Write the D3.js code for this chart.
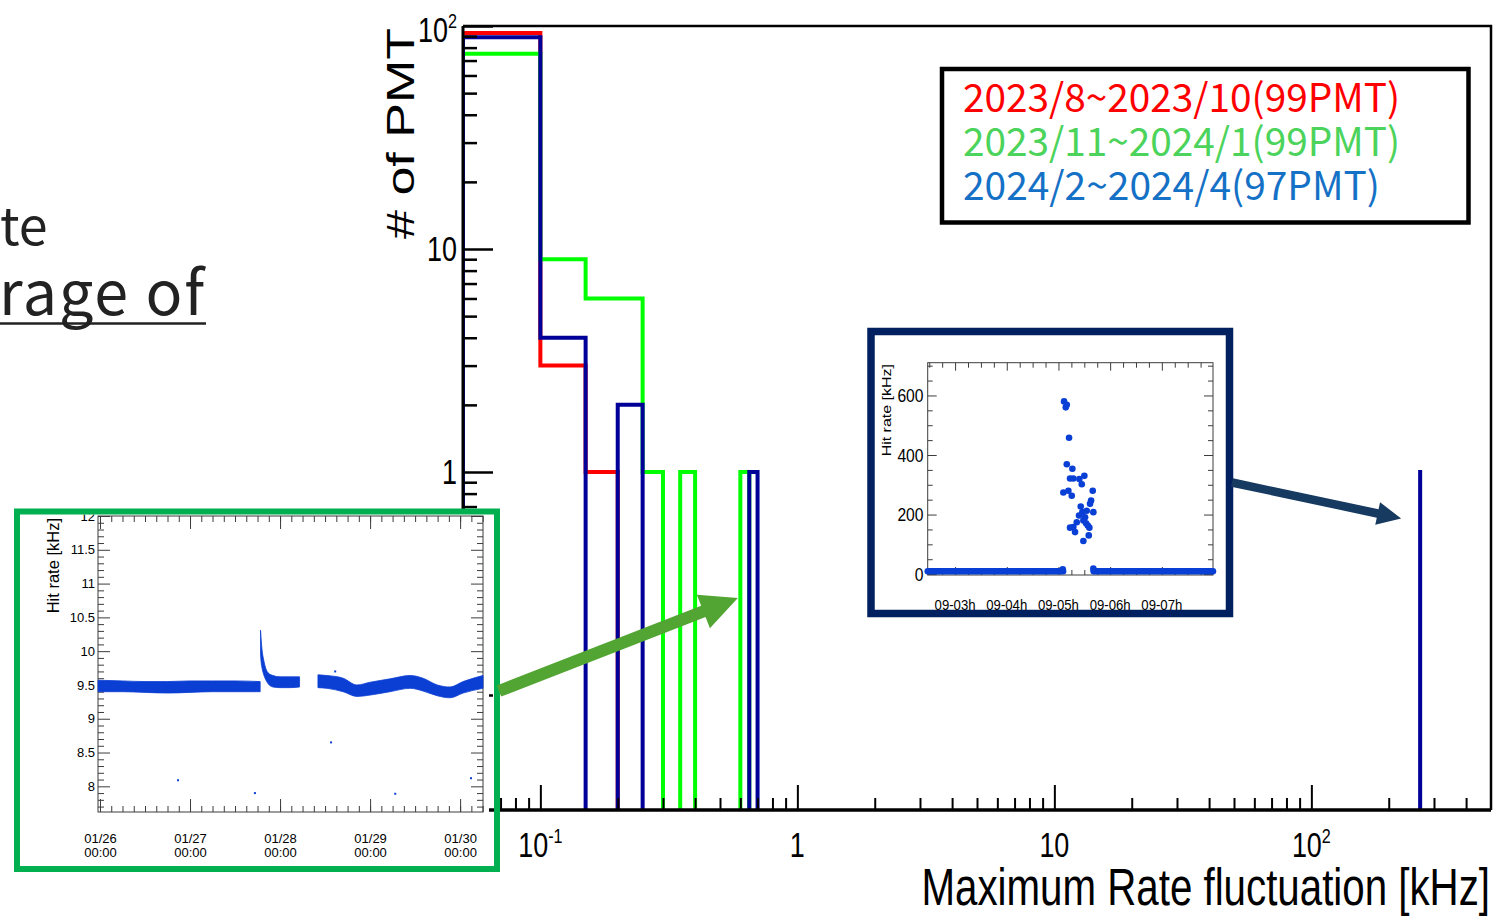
<!DOCTYPE html>
<html>
<head>
<meta charset="utf-8">
<script src="https://cdn.jsdelivr.net/npm/d3@7"></script>
<style>
  body { margin: 0; background: #fff; }
  svg { display: block; }
</style>
</head>
<body>
<svg id="chart" width="1503" height="917"></svg>
<script>
// ---------------- data ----------------
// histogram bins of the maximum rate fluctuation [kHz] (fixed 0.05 kHz bins)
const binEdges = [0.05, 0.10, 0.15, 0.20, 0.25, 0.30, 0.35, 0.40, 0.45, 0.50, 0.55, 0.60, 0.65, 0.70];
const farBin = [265.0, 265.05];
const seriesNames = ['2023/8~2023/10(99PMT)', '2023/11~2024/1(99PMT)', '2024/2~2024/4(97PMT)'];
const countsRed   = [93, 3, 1, 0, 0, 0, 0, 0, 0, 0, 0, 0, 0];
const countsGreen = [75, 9, 6, 6, 1, 0, 1, 0, 0, 0, 0, 1, 0];
const countsBlue  = [89, 4, 0, 2, 0, 0, 0, 0, 0, 0, 0, 0, 1];
const farCounts   = [0, 0, 1];

const xMajorTicks = [0.1, 1, 10, 100];
const xMinorTicks = [0.06, 0.07, 0.08, 0.09, 0.2, 0.3, 0.4, 0.5, 0.6, 0.7, 0.8, 0.9,
  2, 3, 4, 5, 6, 7, 8, 9, 20, 30, 40, 50, 60, 70, 80, 90, 200, 300, 400];
const yMajorTicks = [0.1, 1, 10, 100];
const yMinorTicks = [0.04, 0.05, 0.06, 0.07, 0.08, 0.09, 0.2, 0.3, 0.4, 0.5, 0.6, 0.7, 0.8, 0.9,
  2, 3, 4, 5, 6, 7, 8, 9, 20, 30, 40, 50, 60, 70, 80, 90];

// inset 1: hit rate of a normal PMT, hours since 01/26 00:00 (band of dense points)
const bandHours = [
  [-0.5, 6, 12, 18, 24, 30, 36, 42.7],
  [42.8, 42.93, 43.2, 43.6, 44.0, 44.8, 46.1, 48.0, 50.7, 53.2],
  [58.1, 60.5, 64.8, 68.5, 72.0, 77.3, 82.7, 86.1, 89.9, 93.3, 96.8, 102.1]
];
const bandLow = [
  [9.40, 9.40, 9.39, 9.38, 9.39, 9.40, 9.40, 9.40],
  [9.95, 9.85, 9.75, 9.66, 9.60, 9.52, 9.47, 9.46, 9.46, 9.47],
  [9.46, 9.45, 9.40, 9.33, 9.35, 9.40, 9.45, 9.41, 9.34, 9.31, 9.38, 9.45]
];
const bandHigh = [
  [9.57, 9.56, 9.55, 9.55, 9.56, 9.56, 9.56, 9.55],
  [10.31, 10.20, 10.02, 9.88, 9.78, 9.68, 9.64, 9.62, 9.62, 9.62],
  [9.65, 9.64, 9.60, 9.50, 9.54, 9.59, 9.64, 9.60, 9.50, 9.47, 9.55, 9.64]
];
const strayHours = [20.8, 41.3, 61.6, 78.7, 98.9, 62.7];
const strayRates = [8.09, 7.90, 8.65, 7.89, 8.12, 9.70];
const dayTicks = ['2024-01-26', '2024-01-27', '2024-01-28', '2024-01-29', '2024-01-30'];

// inset 2: hit rate of the noisy PMT, hour of day 09
const burstHours = [5.108, 5.141, 5.161, 5.205, 5.161, 5.269, 5.095, 5.192, 5.224, 5.288, 5.257,
  5.404, 5.501, 5.451, 5.663, 5.631, 5.611, 5.675, 5.224, 5.288, 5.321, 5.354, 5.398, 5.431,
  5.462, 5.482, 5.515, 5.547, 5.534, 5.567, 5.598, 5.586, 5.482, 5.675, 5.083];
const burstRates = [580, 560, 569, 458, 369, 354, 274, 280, 321, 321, 263,
  319, 330, 302, 280, 247, 236, 208, 156, 158, 141, 174, 197, 227,
  208, 180, 191, 213, 171, 163, 156, 130, 111, 19, 16];
const quietHours = [[2.47, 5.09], [5.68, 7.99]];
const quietRate = 10;
const hourTicks = [3, 4, 5, 6, 7];

// ---------------- layout ----------------
const svg = d3.select('#chart');
const ROOTFONT = 'Liberation Sans, Arial, Helvetica, sans-serif';
const JPFONT = '"Noto Sans CJK JP", "Noto Sans", sans-serif';

function squeezed(parent, x, y, size, sx, anchor, rot) {
  return parent.append('text')
    .attr('transform', `translate(${x},${y}) scale(${sx},1)` + (rot ? ` rotate(${rot})` : ''))
    .attr('text-anchor', anchor)
    .style('font-family', ROOTFONT)
    .style('font-size', size + 'px')
    .style('fill', '#000');
}
function powerLabel(t, v, size) {
  const e = Math.round(Math.log10(v));
  if (e === 0) { t.text('1'); return; }
  if (e === 1) { t.text('10'); return; }
  t.append('tspan').text('10');
  t.append('tspan').attr('dy', -size * 0.4).style('font-size', (size * 0.6) + 'px').text(e);
}
function styleTicks(g, color, width) {
  g.select('.domain').remove();
  g.selectAll('.tick line').style('stroke', color).style('stroke-width', width);
}

// left slide text (cut off by the crop)
svg.append('text').attr('x', 0).attr('y', 245)
  .style('font-family', JPFONT).style('font-size', '52px').style('fill', '#222').text('te');
svg.append('text').attr('x', -1).attr('y', 315)
  .attr('textLength', 205).attr('lengthAdjust', 'spacing')
  .style('font-family', JPFONT).style('font-size', '61px').style('fill', '#222').text('rage of');
svg.append('line').attr('x1', 0).attr('x2', 206).attr('y1', 323.5).attr('y2', 323.5)
  .style('stroke', '#222').style('stroke-width', 2.5);

// ---------------- main histogram ----------------
const frame = { left: 463, right: 1491, top: 26, bottom: 810 };
const xMain = d3.scaleLog().domain([0.05, 500]).range([frame.left, frame.right]);
const yMain = d3.scaleLog().domain([0.0305, 100]).range([frame.bottom, frame.top]);

svg.append('clipPath').attr('id', 'frameClip').append('rect')
  .attr('x', frame.left).attr('y', frame.top)
  .attr('width', frame.right - frame.left).attr('height', frame.bottom - frame.top);

const hist = svg.append('g').attr('clip-path', 'url(#frameClip)');
const base = frame.bottom + 10;
const line = d3.line();

function stepPoints(counts) {
  const pts = [[xMain(binEdges[0]), base]];
  counts.forEach((c, i) => {
    const y = c > 0 ? yMain(c) : base;
    pts.push([xMain(binEdges[i]), y], [xMain(binEdges[i + 1]), y]);
  });
  pts.push([xMain(binEdges[counts.length]), base]);
  return pts;
}

const series = [
  { counts: countsRed, far: farCounts[0], color: '#ff0000' },
  { counts: countsGreen, far: farCounts[1], color: '#00ff00' },
  { counts: countsBlue, far: farCounts[2], color: '#000099' }
];
series.forEach(s => {
  hist.append('path').attr('d', line(stepPoints(s.counts)))
    .style('fill', 'none').style('stroke', s.color).style('stroke-width', 4)
    .style('stroke-linejoin', 'miter');
  if (s.far > 0) {
    const y = yMain(s.far);
    hist.append('path')
      .attr('d', line([[xMain(farBin[0]), base], [xMain(farBin[0]), y], [xMain(farBin[1]), y], [xMain(farBin[1]), base]]))
      .style('fill', 'none').style('stroke', s.color).style('stroke-width', 4);
  }
});

// axes
const gx = svg.append('g').attr('transform', `translate(0,${frame.bottom})`);
gx.append('g').call(d3.axisBottom(xMain).tickValues(xMinorTicks).tickSize(-12).tickSizeOuter(0).tickFormat(''))
  .call(g => styleTicks(g, '#000', 2));
gx.append('g').call(d3.axisBottom(xMain).tickValues(xMajorTicks).tickSize(-25).tickSizeOuter(0).tickFormat(''))
  .call(g => styleTicks(g, '#000', 2));
const gy = svg.append('g').attr('transform', `translate(${frame.left},0)`);
gy.append('g').call(d3.axisLeft(yMain).tickValues(yMinorTicks).tickSize(-14).tickSizeOuter(0).tickFormat(''))
  .call(g => styleTicks(g, '#000', 2.5));
gy.append('g').call(d3.axisLeft(yMain).tickValues(yMajorTicks).tickSize(-30).tickSizeOuter(0).tickFormat(''))
  .call(g => styleTicks(g, '#000', 2.5));

svg.append('path')
  .attr('d', `M${frame.left},${frame.top}H${frame.right}V${frame.bottom}`)
  .style('fill', 'none').style('stroke', '#000').style('stroke-width', 2.5);
svg.append('line').attr('x1', frame.left).attr('x2', frame.right).attr('y1', frame.bottom).attr('y2', frame.bottom)
  .style('stroke', '#000').style('stroke-width', 3.5);
svg.append('line').attr('x1', frame.left).attr('x2', frame.left).attr('y1', frame.top).attr('y2', frame.bottom)
  .style('stroke', '#000').style('stroke-width', 3);

xMajorTicks.forEach(v => powerLabel(squeezed(svg, xMain(v), 857, 35, 0.77, 'middle'), v, 35));
yMajorTicks.forEach(v => {
  const y = yMain(v) + (v === 100 ? 16 : 12);
  powerLabel(squeezed(svg, 457, y, 35, 0.77, 'end'), v, 35);
});

squeezed(svg, 1490, 905, 51, 0.79, 'end').text('Maximum Rate fluctuation [kHz]');
squeezed(svg, 414, 28, 52, 0.76, 'end', -90).text('# of PMT');

// legend
const legend = svg.append('g');
legend.append('rect').attr('x', 942).attr('y', 69).attr('width', 526.5).attr('height', 153.5)
  .style('fill', '#fff').style('stroke', '#000').style('stroke-width', 4.5);
const legendColors = ['#ff0000', '#4cd35b', '#1571c6'];
const legendWidths = [437, 437, 417];
seriesNames.forEach((n, i) => {
  legend.append('text').attr('x', 963).attr('y', 111.5 + i * 44.3)
    .attr('textLength', legendWidths[i]).attr('lengthAdjust', 'spacingAndGlyphs')
    .style('font-family', JPFONT).style('font-size', '39px').style('fill', legendColors[i]).text(n);
});

// ---------------- inset 1 (green frame) ----------------
const in1 = svg.append('g');
const t0 = new Date(2024, 0, 26);
const hToDate = h => new Date(+t0 + h * 3600e3);
const f1 = { left: 98, right: 483, top: 516, bottom: 812 };
in1.append('rect').attr('x', 20).attr('y', 514).attr('width', 469).attr('height', 352).style('fill', '#fff');
in1.append('clipPath').attr('id', 'in1Clip').append('rect')
  .attr('x', 20).attr('y', 514.5).attr('width', 469).attr('height', 352);
const in1c = in1.append('g').attr('clip-path', 'url(#in1Clip)');

const xIn1 = d3.scaleTime().domain([hToDate(-0.53), hToDate(102.1)]).range([f1.left, f1.right]);
const yIn1 = d3.scaleLinear().domain([7.62, 12]).range([f1.bottom, f1.top]);
const tickCol = '#3c3c3c';

const yIn1Major = d3.range(8, 12.01, 0.5);
const yIn1Minor = d3.range(7.7, 12.01, 0.1).filter(v => Math.abs(v * 2 - Math.round(v * 2)) > 1e-6);
const dayDates = dayTicks.map(s => { const p = s.split('-'); return new Date(+p[0], +p[1] - 1, +p[2]); });
const in1Minor = d3.timeHour.every(3).range(xIn1.domain()[0], xIn1.domain()[1]);

[[d3.axisLeft, f1.left], [d3.axisRight, f1.right]].forEach(([ax, x]) => {
  in1c.append('g').attr('transform', `translate(${x},0)`)
    .call(ax(yIn1).tickValues(yIn1Minor).tickSize(-6).tickSizeOuter(0).tickFormat(''))
    .call(g => styleTicks(g, tickCol, 1));
  in1c.append('g').attr('transform', `translate(${x},0)`)
    .call(ax(yIn1).tickValues(yIn1Major).tickSize(-12).tickSizeOuter(0).tickFormat(''))
    .call(g => styleTicks(g, tickCol, 1));
});
[[d3.axisBottom, f1.bottom], [d3.axisTop, f1.top]].forEach(([ax, y]) => {
  in1c.append('g').attr('transform', `translate(0,${y})`)
    .call(ax(xIn1).tickValues(in1Minor).tickSize(-6).tickSizeOuter(0).tickFormat(''))
    .call(g => styleTicks(g, tickCol, 1));
  in1c.append('g').attr('transform', `translate(0,${y})`)
    .call(ax(xIn1).tickValues(dayDates).tickSize(-13).tickSizeOuter(0).tickFormat(''))
    .call(g => styleTicks(g, tickCol, 1));
});
in1c.append('rect').attr('x', f1.left).attr('y', f1.top).attr('width', f1.right - f1.left).attr('height', f1.bottom - f1.top)
  .style('fill', 'none').style('stroke', tickCol).style('stroke-width', 1);

// y labels
in1c.append('g').attr('transform', `translate(${f1.left},0)`)
  .call(d3.axisLeft(yIn1).tickValues(yIn1Major).tickSize(0).tickPadding(3).tickFormat(d3.format('~g')))
  .call(g => g.select('.domain').remove())
  .call(g => g.selectAll('text').style('font-family', ROOTFONT).style('font-size', '13px').style('fill', '#000'));
// x labels (two lines)
in1c.append('g').attr('transform', `translate(0,${f1.bottom})`)
  .call(d3.axisBottom(xIn1).tickValues(dayDates).tickSize(0).tickFormat(''))
  .call(g => g.select('.domain').remove())
  .call(g => g.selectAll('.tick text').attr('dy', null).attr('y', null)
    .style('font-family', ROOTFONT).style('font-size', '13px').style('fill', '#000')
    .each(function (d) {
      const t = d3.select(this);
      t.append('tspan').attr('x', 0).attr('y', 31).text(d3.timeFormat('%m/%d')(d));
      t.append('tspan').attr('x', 0).attr('y', 45).text(d3.timeFormat('%H:%M')(d));
    }));
in1c.append('text')
  .attr('transform', `translate(58.5,518) rotate(-90)`).attr('text-anchor', 'end')
  .style('font-family', ROOTFONT).style('font-size', '16.5px').text('Hit rate [kHz]');

const ptColor = '#0b3fd3';
bandHours.forEach((hs, k) => {
  const rows = hs.map((h, i) => ({ t: hToDate(h), lo: bandLow[k][i], hi: bandHigh[k][i] }));
  in1c.append('path')
    .attr('d', d3.area().curve(d3.curveMonotoneX).x(d => xIn1(d.t)).y0(d => yIn1(d.lo)).y1(d => yIn1(d.hi))(rows))
    .style('fill', ptColor).style('stroke', ptColor).style('stroke-width', 0.8);
});
in1c.selectAll('rect.stray').data(strayHours).enter().append('rect').attr('class', 'stray')
  .attr('x', (h) => xIn1(hToDate(h)) - 1).attr('y', (h, i) => yIn1(strayRates[i]) - 1)
  .attr('width', 2).attr('height', 2).style('fill', ptColor);

in1.append('rect').attr('x', 17).attr('y', 511.5).attr('width', 480).attr('height', 357.5)
  .style('fill', 'none').style('stroke', '#00b050').style('stroke-width', 6);

// ---------------- inset 2 (navy frame) ----------------
const in2 = svg.append('g');
in2.append('rect').attr('x', 871).attr('y', 331.5).attr('width', 358.5).attr('height', 282)
  .style('fill', '#fff').style('stroke', '#002060').style('stroke-width', 7.5);
const f2 = { left: 927.7, right: 1213, top: 362.7, bottom: 575 };
const xIn2 = d3.scaleLinear().domain([2.47, 7.99]).range([f2.left, f2.right]);
const yIn2 = d3.scaleLinear().domain([-3, 710]).range([f2.bottom, f2.top]);
const in2MinorX = d3.range(2.5, 8, 0.25).filter(h => h % 1 !== 0);
const in2MinorY = d3.range(50, 701, 50).filter(v => v % 200 !== 0);

[[d3.axisLeft, f2.left], [d3.axisRight, f2.right]].forEach(([ax, x]) => {
  in2.append('g').attr('transform', `translate(${x},0)`)
    .call(ax(yIn2).tickValues(in2MinorY).tickSize(-5).tickSizeOuter(0).tickFormat(''))
    .call(g => styleTicks(g, tickCol, 1));
  in2.append('g').attr('transform', `translate(${x},0)`)
    .call(ax(yIn2).tickValues([0, 200, 400, 600]).tickSize(-9).tickSizeOuter(0).tickFormat(''))
    .call(g => styleTicks(g, tickCol, 1));
});
[[d3.axisBottom, f2.bottom], [d3.axisTop, f2.top]].forEach(([ax, y]) => {
  in2.append('g').attr('transform', `translate(0,${y})`)
    .call(ax(xIn2).tickValues(in2MinorX).tickSize(-5).tickSizeOuter(0).tickFormat(''))
    .call(g => styleTicks(g, tickCol, 1));
  in2.append('g').attr('transform', `translate(0,${y})`)
    .call(ax(xIn2).tickValues(hourTicks).tickSize(-8).tickSizeOuter(0).tickFormat(''))
    .call(g => styleTicks(g, tickCol, 1));
});
in2.append('rect').attr('x', f2.left).attr('y', f2.top).attr('width', f2.right - f2.left).attr('height', f2.bottom - f2.top)
  .style('fill', 'none').style('stroke', tickCol).style('stroke-width', 1);

[0, 200, 400, 600].forEach(v => squeezed(in2, 923.5, yIn2(v) + 6.5, 18, 0.87, 'end').text(v));
hourTicks.forEach(h => squeezed(in2, xIn2(h), 609.5, 14, 0.94, 'middle').text(`09-0${h}h`));
squeezed(in2, 890.5, 364, 16, 0.78, 'end', -90).text('Hit rate [kHz]');

quietHours.forEach(([a, b]) => {
  in2.append('line').attr('x1', xIn2(a)).attr('x2', xIn2(b))
    .attr('y1', yIn2(quietRate)).attr('y2', yIn2(quietRate))
    .style('stroke', '#0a3fd6').style('stroke-width', 6.5).style('stroke-linecap', 'round');
});
in2.selectAll('circle.burst').data(burstHours).enter().append('circle').attr('class', 'burst')
  .attr('cx', h => xIn2(h)).attr('cy', (h, i) => yIn2(burstRates[i])).attr('r', 3.3)
  .style('fill', '#0a3fd6');

// ---------------- arrows ----------------
function arrowPoints(x1, y1, x2, y2, sw, hl, hw) {
  const dx = x2 - x1, dy = y2 - y1, L = Math.hypot(dx, dy);
  const ux = dx / L, uy = dy / L, px = -uy, py = ux;
  const bx = x2 - ux * hl, by = y2 - uy * hl;
  return [[x1 + px * sw / 2, y1 + py * sw / 2], [bx + px * sw / 2, by + py * sw / 2],
    [bx + px * hw / 2, by + py * hw / 2], [x2, y2], [bx - px * hw / 2, by - py * hw / 2],
    [bx - px * sw / 2, by - py * sw / 2], [x1 - px * sw / 2, y1 - py * sw / 2]];
}
svg.append('polygon')
  .attr('points', arrowPoints(499, 691, xMain(0.6) - 2.5, 598, 12, 37, 36).join(' '))
  .style('fill', '#52a532');
svg.append('polygon')
  .attr('points', arrowPoints(1232, 482.5, xMain(farBin[0]) - 19, 518.5, 8.5, 24, 23).join(' '))
  .style('fill', '#173a60');
</script>
</body>
</html>
